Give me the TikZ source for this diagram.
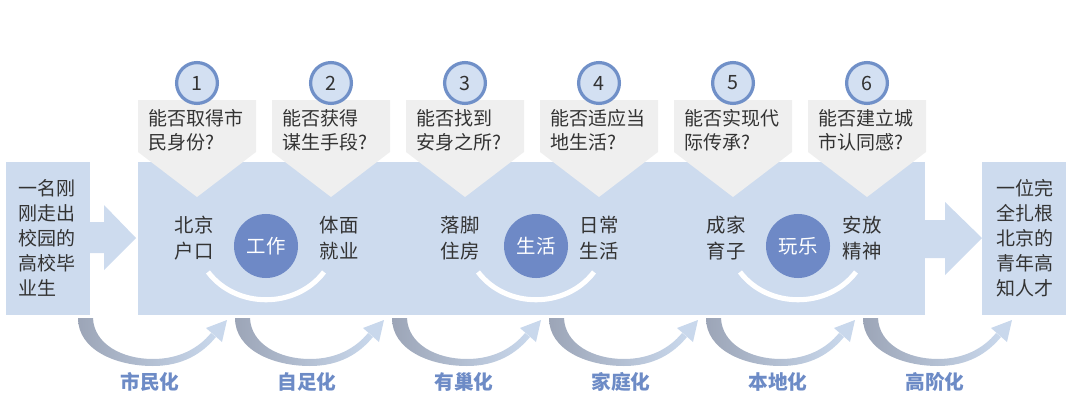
\documentclass[tikz,border=0pt]{standalone}
\usepackage{fontspec}
\newfontfamily\cjk{Noto Sans CJK SC}
\usetikzlibrary{calc}

\definecolor{boxblue}{HTML}{CDDBEE}
\definecolor{callgray}{HTML}{EFEFEF}
\definecolor{ringblue}{HTML}{7090C8}
\definecolor{ringfill}{HTML}{D3E0F2}
\definecolor{discblue}{HTML}{6E89C6}
\definecolor{textgray}{HTML}{333333}
\definecolor{labelblue}{HTML}{6D8BC6}
\definecolor{arrowgray}{HTML}{9CA5B7}
\definecolor{arrowblue}{HTML}{C9D8EC}

\tikzset{
  question/.style={align=left,anchor=west,inner sep=0pt,text=textgray,
    font=\cjk\fontsize{13.5}{17}\selectfont},
  boxtext/.style={align=left,inner sep=0pt,text=textgray,
    font=\cjk\fontsize{13.5}{17.8}\selectfont},
  pairtext/.style={align=center,inner sep=0pt,text=textgray,
    font=\cjk\fontsize{13.8}{18.2}\selectfont},
  number/.style={circle,draw=ringblue,fill=ringfill,line width=2.3pt,
    minimum size=1.02cm,inner sep=0pt,text=textgray,
    font=\cjk\fontsize{14}{16}\selectfont},
  disc/.style={circle,fill=discblue,minimum size=1.6cm,inner sep=0pt,
    text=white,font=\cjk\fontsize{13.8}{16}\selectfont},
  stagelabel/.style={inner sep=0pt,text=labelblue,
    font=\cjk\bfseries\fontsize{14}{16}\selectfont}
}

\begin{document}
\begin{tikzpicture}[x=0.025cm,y=-0.025cm]
\useasboundingbox (0,0) rectangle (1080,408);
% Left box, main box and right box with the two arrows between them
\fill[boxblue] (6,162) rectangle (90,315);
\fill[boxblue] (89,222) -- (104,222) -- (104,205) -- (136,238)
  -- (104,270) -- (104,253) -- (89,253) -- cycle;
\fill[boxblue] (138,162) rectangle (925,315);
\fill[boxblue] (924,220) -- (945,220) -- (945,202) -- (982,238)
  -- (945,275) -- (945,258) -- (924,258) -- cycle;
\fill[boxblue] (982,162) rectangle (1066,315);
% Texts of the outer boxes
\node[boxtext,anchor=west] (start) at (18,238)
  {一名刚\\刚走出\\校园的\\高校毕\\业生};
\node[boxtext] (goal) at (1025,238)
  {一位完\\全扎根\\北京的\\青年高\\知人才};
% Six questions with their numbers
\foreach \x/\q [count=\i] in {138/{能否取得市\\民身份?},
    272/{能否获得\\谋生手段?}, 406/{能否找到\\安身之所?},
    540/{能否适应当\\地生活?}, 674/{能否实现代\\际传承?},
    808/{能否建立城\\市认同感?}}
{
  \fill[callgray] (\x,100) -- ++(118,0) -- ++(0,52) -- ++(-59,45)
    -- ++(-59,-45) -- cycle;
  \node[question] (q\i) at (\x+10,130) {\q};
  \node[number] (n\i) at (\x+59,83) {\i};
}
% Three pairs round a disc, with a white arc below
\foreach \cx/\lx/\rx/\left/\mid/\right [count=\i] in
    {266/194/339/北京\\户口/工作/体面\\就业,
     536/460/599/落脚\\住房/生活/日常\\生活,
     798/726/862/成家\\育子/玩乐/安放\\精神}
{
  \node[disc] (d\i) at (\cx,246) {\mid};
  \node[pairtext] (l\i) at (\lx,238) {\left};
  \node[pairtext] (r\i) at (\rx,238) {\right};
  \draw[white,line width=3.6pt] (\cx-58,272) .. controls (\cx-30,309)
    and (\cx+30,309) .. (\cx+58,272);
}
% Six curved arrows under the boxes with their labels
\foreach \x/\lab [count=\i] in {78/市民化, 235/自足化, 392/有巢化,
    549/家庭化, 706/本地化, 863/高阶化}
{
  \shade[left color=arrowgray,right color=arrowblue]
    (\x,318) .. controls (\x,350) and (\x+38,366) .. (\x+75,366)
    .. controls (\x+104,366) and (\x+124,354) .. (\x+138,337)
    -- (\x+133,333) .. controls (\x+120,349) and (\x+100,359) .. (\x+75,359)
    .. controls (\x+44,359) and (\x+16,344) .. (\x+15,318) -- cycle;
  \fill[arrowblue] (\x+149,320) -- (\x+128,328) -- (\x+144,342) -- cycle;
  \node[stagelabel] (s\i) at (\x+72,382) {\lab};
}
\end{tikzpicture}
\end{document}
